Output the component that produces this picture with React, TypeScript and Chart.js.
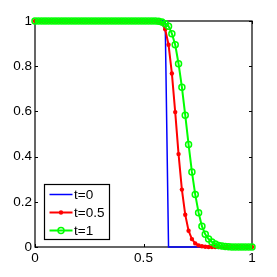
import React, { useEffect, useRef } from "react";
import { Chart, registerables } from "chart.js";

Chart.register(...registerables);

// grid: x_i = i / 65, i = 0..65
const N = 65;
const xs: number[] = Array.from({ length: N + 1 }, (_, i) => i / N);

const labels = ["t=0", "t=0.5", "t=1"];

// t=0 : step profile (1 up to index 39, then 0)
const t0: number[] = [
  1, 1, 1, 1, 1, 1, 1, 1, 1, 1,
  1, 1, 1, 1, 1, 1, 1, 1, 1, 1,
  1, 1, 1, 1, 1, 1, 1, 1, 1, 1,
  1, 1, 1, 1, 1, 1, 1, 1, 1, 1,
  0, 0, 0, 0, 0, 0, 0, 0, 0, 0,
  0, 0, 0, 0, 0, 0, 0, 0, 0, 0,
  0, 0, 0, 0, 0, 0,
];

// t=0.5
const t05: number[] = [
  1, 1, 1, 1, 1, 1, 1, 1, 1, 1,
  1, 1, 1, 1, 1, 1, 1, 1, 1, 1,
  1, 1, 1, 1, 1, 1, 1, 1, 1, 1,
  1, 1, 1, 1, 1, 1, 1, 0.998, 0.99, 0.963,
  0.895, 0.768, 0.597, 0.411, 0.254, 0.143, 0.072, 0.035, 0.016, 0.007,
  0.003, 0.001, 0, 0, 0, 0, 0, 0, 0, 0,
  0, 0, 0, 0, 0, 0,
];

// t=1
const t1: number[] = [
  1, 1, 1, 1, 1, 1, 1, 1, 1, 1,
  1, 1, 1, 1, 1, 1, 1, 1, 1, 1,
  1, 1, 1, 1, 1, 1, 1, 1, 1, 1,
  1, 1, 1, 1, 1, 1, 1, 0.999, 0.996, 0.988,
  0.977, 0.944, 0.895, 0.811, 0.707, 0.583, 0.454, 0.332, 0.232, 0.152,
  0.092, 0.056, 0.035, 0.022, 0.013, 0.007, 0.004, 0.002, 0.001, 0,
  0, 0, 0, 0, 0, 0,
];

const xTicks = [0, 0.5, 1];
const yTicks = [0, 0.2, 0.4, 0.6, 0.8, 1];

const colors = ["#0000ff", "#ff0000", "#00ff00"];

const FONT = "'Liberation Sans', Arial, Helvetica, sans-serif";

const toPts = (ys: number[]) => xs.map((x, i) => ({ x, y: ys[i] }));

const boxPlugin = {
  id: "matlabBox",
  beforeDatasetsDraw(chart: any) {
    const { ctx, chartArea: a, scales } = chart;
    ctx.save();
    ctx.strokeStyle = "#000";
    ctx.lineWidth = 1.2;
    ctx.strokeRect(a.left, a.top, a.right - a.left, a.bottom - a.top);
    ctx.lineWidth = 1;
    const tl = 3;
    ctx.beginPath();
    for (const v of xTicks) {
      const px = Math.round(scales.x.getPixelForValue(v)) + 0.5;
      ctx.moveTo(px, a.bottom);
      ctx.lineTo(px, a.bottom - tl);
      ctx.moveTo(px, a.top);
      ctx.lineTo(px, a.top + tl);
    }
    for (const v of yTicks) {
      const py = Math.round(scales.y.getPixelForValue(v)) + 0.5;
      ctx.moveTo(a.left, py);
      ctx.lineTo(a.left + tl, py);
      ctx.moveTo(a.right, py);
      ctx.lineTo(a.right - tl, py);
    }
    ctx.stroke();
    ctx.restore();
  },
  afterDraw(chart: any) {
    const { ctx, chartArea: a } = chart;
    const bx = a.left + 9.5;
    const by = a.bottom - 62.5;
    const bw = 65;
    const bh = 55;
    ctx.save();
    ctx.fillStyle = "#fff";
    ctx.fillRect(bx, by, bw, bh);
    ctx.strokeStyle = "#000";
    ctx.lineWidth = 1.2;
    ctx.strokeRect(bx, by, bw, bh);
    ctx.font = `13.5px ${FONT}`;
    ctx.textBaseline = "middle";
    ctx.textAlign = "left";
    chart.data.datasets.forEach((ds: any, i: number) => {
      const y = by + 10 + i * 18;
      ctx.strokeStyle = ds.borderColor;
      ctx.lineWidth = ds.borderWidth;
      ctx.beginPath();
      ctx.moveTo(bx + 5, y);
      ctx.lineTo(bx + 28, y);
      ctx.stroke();
      const mx = bx + 16.5;
      if (i === 1) {
        ctx.fillStyle = ds.borderColor;
        ctx.beginPath();
        ctx.arc(mx, y, 2.2, 0, Math.PI * 2);
        ctx.fill();
      } else if (i === 2) {
        ctx.lineWidth = 1.5;
        ctx.beginPath();
        ctx.arc(mx, y, 3, 0, Math.PI * 2);
        ctx.stroke();
      }
      ctx.fillStyle = "#000";
      ctx.fillText(ds.label, bx + 29.5, y + 0.5);
    });
    ctx.restore();
  },
};

export default function App() {
  const ref = useRef<HTMLCanvasElement | null>(null);
  useEffect(() => {
    document.body.style.margin = "0";
    const canvas = ref.current;
    if (!canvas) return;
    const chart = new Chart(canvas, {
      type: "line",
      data: {
        datasets: [
          {
            label: labels[0],
            data: toPts(t0),
            borderColor: colors[0],
            backgroundColor: colors[0],
            borderWidth: 1.5,
            pointRadius: 0,
            order: 2,
            clip: false as any,
          },
          {
            label: labels[1],
            data: toPts(t05),
            borderColor: colors[1],
            backgroundColor: colors[1],
            borderWidth: 2,
            pointRadius: 2.2,
            pointBorderWidth: 0,
            pointBackgroundColor: colors[1],
            order: 1,
            clip: false as any,
          },
          {
            label: labels[2],
            data: toPts(t1),
            borderColor: colors[2],
            backgroundColor: colors[2],
            borderWidth: 2,
            pointRadius: 3,
            pointBorderWidth: 1.5,
            pointBorderColor: colors[2],
            pointBackgroundColor: "rgba(0,0,0,0)",
            order: 0,
            clip: false as any,
          },
        ],
      },
      options: {
        animation: false,
        responsive: false,
        devicePixelRatio: 1,
        layout: { padding: { left: 0, top: 21, right: 25, bottom: 0 } },
        plugins: {
          legend: { display: false },
          tooltip: { enabled: false },
        },
        elements: { line: { tension: 0 } },
        scales: {
          x: {
            type: "linear",
            min: 0,
            max: 1,
            border: { display: false },
            grid: { display: false, drawTicks: false },
            afterFit: (s: any) => {
              s.height = 30;
            },
            afterBuildTicks: (s: any) => {
              s.ticks = xTicks.map((v) => ({ value: v }));
            },
            ticks: {
              padding: 3,
              color: "#000",
              font: { family: FONT, size: 13.5 },
              maxRotation: 0,
              callback: (v: any) => String(Math.round(Number(v) * 10) / 10),
            },
          },
          y: {
            type: "linear",
            min: 0,
            max: 1,
            border: { display: false },
            grid: { display: false, drawTicks: false },
            afterFit: (s: any) => {
              s.width = 35;
            },
            afterBuildTicks: (s: any) => {
              s.ticks = yTicks.map((v) => ({ value: v }));
            },
            ticks: {
              padding: 3,
              color: "#000",
              font: { family: FONT, size: 13.5 },
              callback: (v: any) => String(Math.round(Number(v) * 10) / 10),
            },
          },
        },
      },
      plugins: [boxPlugin],
    });
    return () => chart.destroy();
  }, []);
  return (
    <div style={{ position: "absolute", left: 0, top: 0, width: 277, height: 277, background: "#fff" }}>
      <canvas ref={ref} width={277} height={277} style={{ width: 277, height: 277, display: "block" }} />
    </div>
  );
}
